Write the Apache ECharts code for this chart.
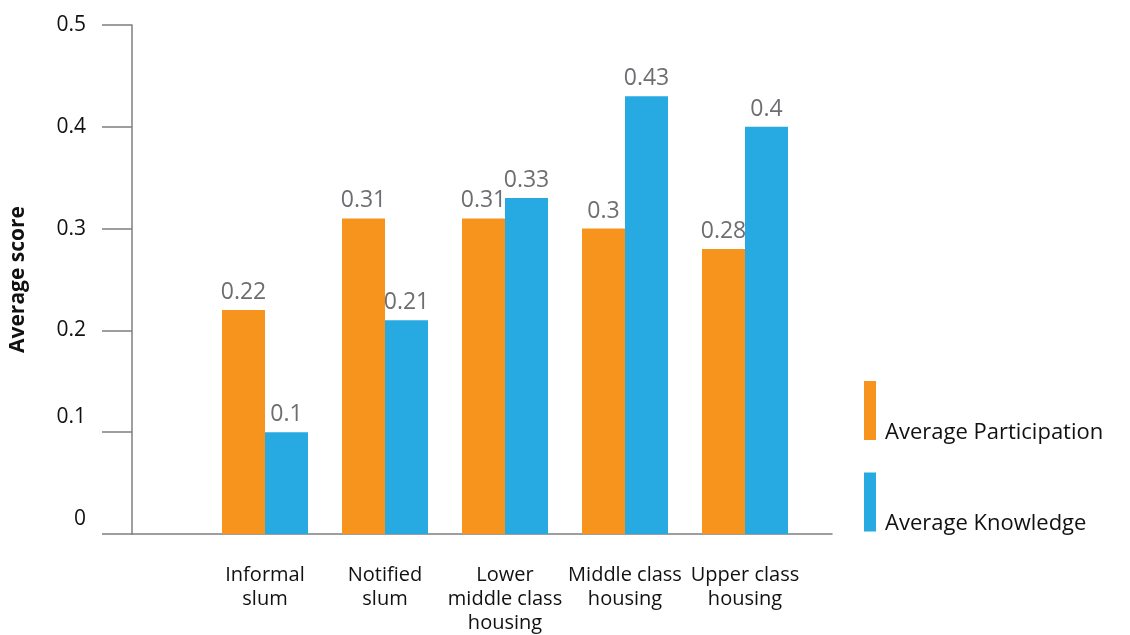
<!DOCTYPE html>
<html>
<head>
<meta charset="utf-8">
<script src="https://cdn.jsdelivr.net/npm/echarts@6/dist/echarts.min.js"></script>
<style>html,body{margin:0;padding:0;background:#fff}#c{width:1130px;height:635px}</style>
</head>
<body>
<div id="c"></div>
<script>
const categories = ["Informal\nslum", "Notified\nslum", "Lower\nmiddle class\nhousing", "Middle class\nhousing", "Upper class\nhousing"];
const participation = [0.22, 0.31, 0.31, 0.30, 0.28];
const knowledge = [0.10, 0.21, 0.33, 0.43, 0.40];
const seriesNames = ["Average Participation", "Average Knowledge"];
const yTicks = [0, 0.1, 0.2, 0.3, 0.4, 0.5];

const FONT = "Open Sans";
const chart = echarts.init(document.getElementById('c'));
chart.setOption({
  animation: false,
  textStyle: {fontFamily: FONT},
  grid: [
    {left: 130, width: 702, top: 25, bottom: 101},
    {left: 205, width: 600, top: 25, bottom: 101}
  ],
  xAxis: [
    {gridIndex: 0, type: 'category', data: [''], axisLine: {lineStyle: {color: '#7f7f7f', width: 1.5}}, axisTick: {show: false}, axisLabel: {show: false}},
    {gridIndex: 1, type: 'category', data: categories, axisLine: {show: false}, axisTick: {show: false},
     axisLabel: {margin: 29, fontSize: 20, color: '#111', lineHeight: 24, fontFamily: FONT, interval: 0}}
  ],
  yAxis: [
    {gridIndex: 0, type: 'value', min: 0, max: 0.5, interval: 0.1,
     name: 'Average score', nameLocation: 'middle', nameGap: 103,
     nameTextStyle: {fontSize: 21, fontWeight: 'bold', color: '#111', fontFamily: FONT},
     axisLine: {show: true, lineStyle: {color: '#7f7f7f', width: 1.5}},
     axisTick: {show: true, length: 30, lineStyle: {color: '#7f7f7f', width: 1.5}},
     splitLine: {show: false},
     axisLabel: {margin: 46, fontSize: 21, color: '#111', fontFamily: FONT,
       formatter: function (v) { return (v < 0.15) ? '{up|' + v + '}' : '{n|' + v + '}'; },
       rich: {up: {fontSize: 21, color: '#111', fontFamily: FONT, padding: [0, 0, 30, 0]}, n: {fontSize: 21, color: '#111', fontFamily: FONT}}}},
    {gridIndex: 1, type: 'value', min: 0, max: 0.5, interval: 0.1, show: false}
  ],
  legend: {
    orient: 'vertical', left: 864, top: 381, padding: 0, itemWidth: 12, itemHeight: 59, itemGap: 29,
    icon: 'rect',
    formatter: function (name) { return '{t|' + name + '}'; },
    textStyle: {fontSize: 22, color: '#111', fontFamily: FONT,
      rich: {t: {fontSize: 22, color: '#111', fontFamily: FONT, padding: [44, 0, 0, 4]}}},
    data: seriesNames
  },
  series: [
    {name: seriesNames[0], type: 'bar', xAxisIndex: 1, yAxisIndex: 1, data: participation, barWidth: 43, barGap: '0%',
     itemStyle: {color: '#F7941D'},
     label: {show: true, position: 'top', distance: 6, fontSize: 23, color: '#6d6e71', fontFamily: FONT}},
    {name: seriesNames[1], type: 'bar', xAxisIndex: 1, yAxisIndex: 1, data: knowledge, barWidth: 43, barGap: '0%',
     itemStyle: {color: '#27AAE1'},
     label: {show: true, position: 'top', distance: 6, fontSize: 23, color: '#6d6e71', fontFamily: FONT}}
  ]
});
</script>
</body>
</html>
